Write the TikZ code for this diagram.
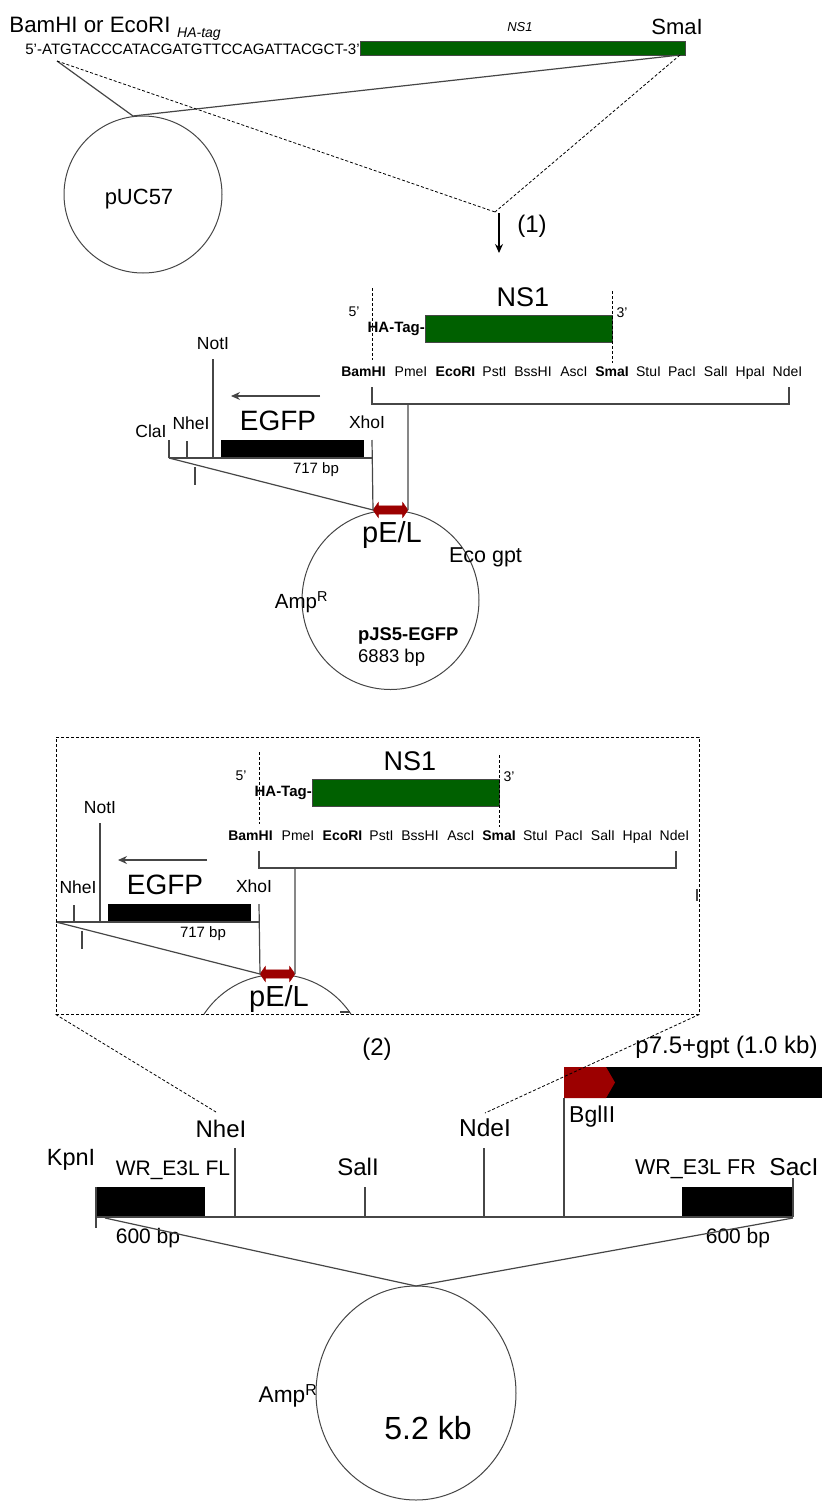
\documentclass[tikz,border=0pt]{standalone}
\usepackage{fontspec}
\setmainfont{Liberation Sans}
\usetikzlibrary{arrows.meta,shapes.geometric,shapes.arrows,shapes.symbols}
\definecolor{nsgreen}{RGB}{0,96,0}
\definecolor{pelred}{RGB}{156,0,0}
\definecolor{wire}{RGB}{70,70,70}
\newcommand{\cassette}{%
    \node[lab=27] (ns1) at (523,297) {NS1};
    \node[bar, fill=nsgreen, draw=wire, minimum width=187pt, minimum height=27pt] (nsbar) at (518.5,328.5) {};
    \node[lab=14] (five) at (354,312) {5'};
    \node[lab=14] (three) at (622,313) {3'};
    \node[lab=15, anchor=east] (hatag) at (nsbar.west) {\textbf{HA-Tag-}};
    \foreach \x/\t [count=\n] in {363.5/\textbf{BamHI},411/PmeI,455.5/\textbf{EcoRI},494.5/PstI,533/BssHI,574/AscI,612/\textbf{SmaI},648.5/StuI,682/PacI,716/SalI,750.5/HpaI,787.5/NdeI}
      \node[lab=14, anchor=base] (site\n) at (\x,376) {\t};
    \coordinate (dashL) at (372,288);
    \coordinate (dashLb) at (372,360);
    \coordinate (dashR) at (612,291);
    \coordinate (dashRb) at (612,363);
    \draw[dline] (dashL) -- (dashLb);
    \draw[dline] (dashR) -- (dashRb);
    \node[pel] (pel) at (390.5,510) {};
    \coordinate (brL) at (372,387);
    \coordinate (brM) at (408,404);
    \coordinate (brR) at (789,387);
    \draw[wline] (brL) |- (brM) -| (brR);
    \draw[wline] (brM) -- (pel.east);
    \node[bar, fill=black, minimum width=143pt, minimum height=18pt] (egfpbar) at (292.5,449) {};
    \node[lab=28] (egfp) at (278,421) {EGFP};
    \coordinate (arrowR) at (320,396);
    \coordinate (arrowL) at (231,396);
    \draw[->, wline] (arrowR) -- (arrowL);
    \coordinate (baseL) at (169,458);
    \coordinate (baseR) at (372,458);
    \coordinate (xhoTop) at (372,440);
    \coordinate (nheTop) at (187,441);
    \coordinate (nheBot) at (187,458);
    \coordinate (notTop) at (213,359);
    \coordinate (notBot) at (213,458);
    \coordinate (tickTop) at (195,467);
    \coordinate (tickBot) at (195,485);
    \draw[wline] (baseL) -- (baseR);
    \draw[wline] (xhoTop) -- (pel.west);
    \draw[wline] (nheTop) -- (nheBot);
    \draw[wline] (notTop) -- (notBot);
    \draw[wline] (tickTop) -- (tickBot);
    \draw[wline] (baseL) -- (pel.west);
    \node[lab=17.5] (noti) at (213,344) {NotI};
    \node[lab=17.5] (nhei) at (191,423) {NheI};
    \node[lab=17.5] (xhoi) at (367,422) {XhoI};
    \node[lab=15] (bp) at (316,470) {717 bp};
    \node[lab=29] (pelt) at (392,535) {pE/L};
}
\begin{document}
\begin{tikzpicture}[
      x=1pt, y=-1pt,
      >={Stealth[length=9pt,width=8pt]},
      lab/.style={font=\fontsize{#1}{#1}\selectfont, inner sep=0pt},
      bar/.style={inner sep=0pt, outer sep=0pt},
      plasmid/.style={draw=wire, line width=1pt, ellipse, inner sep=0pt, outer sep=0pt},
      pel/.style={double arrow, fill=pelred, draw=pelred, inner xsep=0pt, inner ysep=4pt, outer sep=0pt, minimum height=35pt, double arrow head extend=3.5pt, double arrow tip angle=110},
      wline/.style={draw=wire, line width=1.2pt},
      dline/.style={draw=black, line width=0.8pt, dash pattern=on 3pt off 2pt}
    ]
    \useasboundingbox (0,0) rectangle (822,1502);

    \node[lab=22.3] (bam) at (90,25) {BamHI or EcoRI};
    \node[lab=14] (hatop) at (199,34) {\textit{HA-tag}};
    \node[lab=15.1] (seq) at (192.5,49) {5'-ATGTACCCATACGATGTTCCAGATTACGCT-3'};
    \node[bar, fill=nsgreen, draw=wire, minimum width=325pt, minimum height=14pt] (nstop) at (522.5,48) {};
    \node[lab=13] (nstext) at (520,27) {\textit{NS1}};
    \node[lab=22] (smatop) at (677,27) {SmaI};
    \node[plasmid, minimum width=158pt, minimum height=157pt] (puc) at (143,194.5) {};
    \node[lab=22] (puctext) at (139,199) {pUC57};
    \coordinate (seqEnd) at (57,61);
    \coordinate (nsEnd) at (680,55);
    \coordinate (pucTop) at (133,116);
    \coordinate (apex) at (495,212);
    \coordinate (arrowEnd) at (499,253);
    \coordinate (arrowTop) at (499,213);
    \draw[wline] (seqEnd) -- (pucTop);
    \draw[wline] (nsEnd) -- (pucTop);
    \draw[dline] (seqEnd) -- (apex);
    \draw[dline] (nsEnd) -- (apex);
    \draw[->, wline, draw=black] (arrowTop) -- (arrowEnd);
    \node[lab=24] (step1) at (532,226) {(1)};

    \node[plasmid, minimum width=177pt, minimum height=179pt] (pjs) at (390.5,600) {};
    \begin{scope}[name prefix=a-]
      \cassette
      \coordinate (claTop) at (169,440);
      \draw[wline] (claTop) -- (baseL);
      \node[lab=17.5] (clai) at (151,431) {ClaI};
    \end{scope}
    \node[lab=21.5] (eco) at (485.5,557) {Eco gpt};
    \node[lab=20.5] (amp1) at (301.5,602) {Amp\textsuperscript{R}};
    \node[lab=18.4, anchor=west] (pjsname) at (358,636) {\textbf{pJS5-EGFP}};
    \node[lab=18.5, anchor=west] (pjssize) at (358,658) {6883 bp};

    \begin{scope}
      \clip (56,737) rectangle (699,1014);
      \node[plasmid, minimum width=177pt, minimum height=179pt] (pjsb) at (277.5,1064) {};
    \end{scope}
    \begin{scope}[shift={(-113,464)}, name prefix=b-]
      \cassette
    \end{scope}
    \node[draw=black, line width=0.8pt, dash pattern=on 3pt off 2pt, inner sep=0pt, minimum width=643pt, minimum height=277pt] (zoombox) at (377.5,875.5) {};
    \coordinate (stubA) at (340,1012);
    \coordinate (stubB) at (350,1012);
    \coordinate (stubC) at (697,889);
    \coordinate (stubD) at (697,901);
    \draw[wline] (stubA) -- (stubB);
    \draw[wline] (stubC) -- (stubD);

    \node[lab=24] (step2) at (377,1049) {(2)};
    \coordinate (nheDash) at (216,1112);
    \coordinate (ndeDash) at (485,1113);
    \node[bar, fill=black, minimum width=258pt, minimum height=31pt] (gptbar) at (693,1082.5) {};
    \node[bar, fill=pelred, signal, signal to=east, signal pointer angle=120, minimum width=51pt, minimum height=31pt, anchor=west] (p75) at (gptbar.west) {};
    \draw[dline] (zoombox.south west) -- (nheDash);
    \draw[dline] (zoombox.south east) -- (ndeDash);
    \node[lab=24] (gpttext) at (726.5,1047) {p7.5+gpt (1.0 kb)};
    \node[lab=23, anchor=west] (bgl) at (569,1117) {BglII};
    \node[lab=24] (nhe2) at (221,1129) {NheI};
    \node[lab=24.5] (nde2) at (485,1128) {NdeI};
    \node[lab=23.5] (kpn) at (71,1160) {KpnI};
    \node[lab=21] (flname) at (173,1170) {WR\_E3L FL};
    \node[lab=24] (sal2) at (358,1167) {SalI};
    \node[lab=21.5] (frname) at (695.5,1169) {WR\_E3L FR};
    \node[lab=24.5] (sac) at (794,1167) {SacI};
    \node[bar, fill=black, minimum width=109pt, minimum height=30pt] (flbar) at (150.5,1202) {};
    \node[bar, fill=black, minimum width=111pt, minimum height=30pt] (frbar) at (737.5,1202) {};
    \coordinate (lineL) at (96,1217);
    \coordinate (lineR) at (793,1217);
    \coordinate (kpnTop) at (96,1187);
    \coordinate (kpnBot) at (96,1228);
    \coordinate (nheTop2) at (235,1148);
    \coordinate (nheBot2) at (235,1217);
    \coordinate (salTop) at (365,1187);
    \coordinate (salBot) at (365,1217);
    \coordinate (ndeTop) at (484,1148);
    \coordinate (ndeBot) at (484,1217);
    \coordinate (bglBot) at (564,1217);
    \coordinate (sacTop) at (793,1178);
    \coordinate (sacBot) at (793,1217);
    \coordinate (diagL) at (105,1218);
    \coordinate (diagR) at (793,1218);
    \draw[wline] (lineL) -- (lineR);
    \draw[wline] (kpnTop) -- (kpnBot);
    \draw[wline] (nheTop2) -- (nheBot2);
    \draw[wline] (salTop) -- (salBot);
    \draw[wline] (ndeTop) -- (ndeBot);
    \draw[wline] (gptbar.south west) -- (bglBot);
    \draw[wline] (sacTop) -- (sacBot);
    \node[lab=21] (bpl) at (148,1238) {600 bp};
    \node[lab=21] (bpr) at (738,1238) {600 bp};
    \node[plasmid, minimum width=200pt, minimum height=214pt] (kb) at (416,1393) {};
    \draw[wline] (diagL) -- (kb.north);
    \draw[wline] (diagR) -- (kb.north);
    \node[lab=22.7] (amp2) at (288,1396) {Amp\textsuperscript{R}};
    \node[lab=32] (kbtext) at (428,1428) {5.2 kb};
  \end{tikzpicture}
\end{document}
